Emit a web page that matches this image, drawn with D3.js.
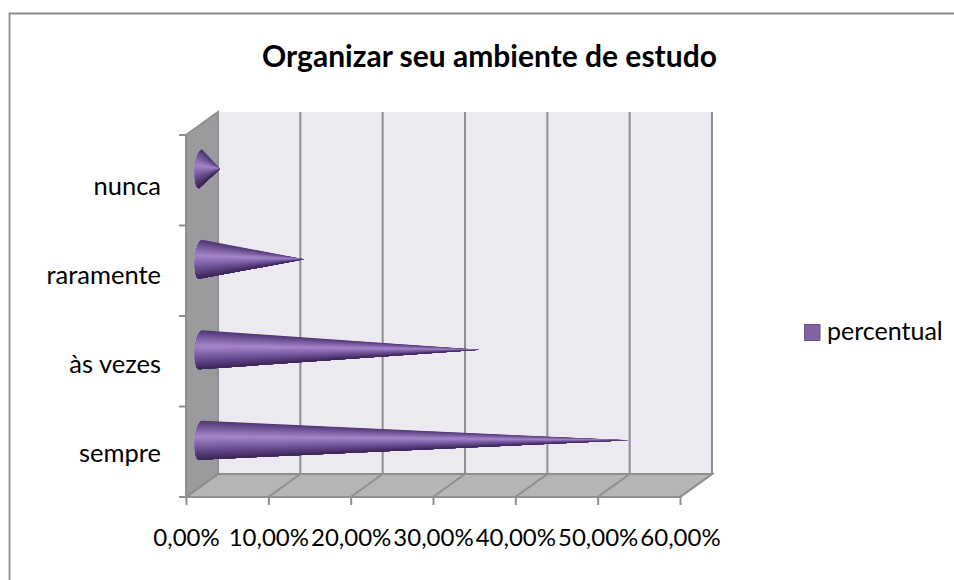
<!DOCTYPE html>
<html>
<head>
<meta charset="utf-8">
<script src="https://cdn.jsdelivr.net/npm/d3@7"></script>
<style>
  html, body { margin: 0; padding: 0; background: #fff; }
  svg { display: block; }
  text { font-family: Lato, "Open Sans", sans-serif; fill: #000; }
</style>
</head>
<body>
<div id="chart"></div>
<script>
const categories = ['sempre', 'às vezes', 'raramente', 'nunca'];
const percentual = [51.8, 33.7, 12.4, 2.2];
const ticks = [0, 10, 20, 30, 40, 50, 60];
const chartTitle = 'Organizar seu ambiente de estudo';
const seriesName = 'percentual';

const W = 954, H = 580;
const plotLeft = 186, plotRight = 680, plotTop = 135, plotBottom = 497;
const dx = 32, dy = -23; // profundidade do 3d
const gridColor = '#8f8f8f';

const svg = d3.select('#chart').append('svg').attr('width', W).attr('height', H);

const soft = svg.append('defs').append('filter').attr('id', 'soft');
soft.append('feGaussianBlur').attr('stdDeviation', 0.45);

const x = d3.scaleLinear().domain([0, 60]).range([plotLeft, plotRight]);
const y = d3.scaleBand().domain(categories).range([plotBottom, plotTop]);
// os rotulos ficam um pouco abaixo das marcas
const yLabel = d3.scaleBand().domain(categories).range([plotBottom + 1.5, plotTop + 7.5]);
const fmt = (v) => v.toFixed(2).replace('.', ',') + '%';
const line = (pts) => 'M' + pts.map((p) => p.join(',')).join('L') + 'Z';

// moldura: so o lado de cima e o esquerdo aparecem no recorte
svg.append('path')
  .attr('d', `M9.5,${H}V13.5H${W}`)
  .attr('fill', 'none').attr('stroke', '#8c8c8c').attr('stroke-width', 1.8);

svg.append('text')
  .attr('x', 489.5).attr('y', 67)
  .attr('text-anchor', 'middle')
  .attr('font-size', 30).attr('font-weight', 700)
  .text(chartTitle);

// paredes
const walls = svg.append('g');
walls.append('path')
  .attr('d', line([[plotLeft + dx, plotTop + dy], [plotRight + dx, plotTop + dy], [plotRight + dx, plotBottom + dy], [plotLeft + dx, plotBottom + dy]]))
  .attr('fill', '#ece9f1');
walls.append('path')
  .attr('d', line([[plotLeft, plotTop], [plotLeft + dx, plotTop + dy], [plotLeft + dx, plotBottom + dy], [plotLeft, plotBottom]]))
  .attr('fill', '#9b9a9d').attr('stroke', gridColor).attr('stroke-width', 2);
walls.append('path')
  .attr('d', line([[plotLeft, plotBottom], [plotLeft + dx, plotBottom + dy], [plotRight + dx, plotBottom + dy], [plotRight, plotBottom]]))
  .attr('fill', '#b5b4b7').attr('stroke', gridColor).attr('stroke-width', 2);

// grade
const grid = svg.append('g').attr('fill', 'none').attr('stroke', gridColor).attr('stroke-width', 2);
grid.selectAll('path')
  .data(ticks)
  .enter()
  .append('path')
  .attr('d', (d) => `M${x(d)},${plotBottom}L${x(d) + dx},${plotBottom + dy}V${plotTop + dy}`);

// eixos
const axisX = d3.axisBottom(x).tickValues(ticks).tickFormat(fmt).tickSize(8).tickPadding(24);
const gx = svg.append('g').attr('transform', `translate(0,${plotBottom})`).call(axisX);
gx.select('.domain').remove();
gx.selectAll('line').attr('stroke', gridColor).attr('stroke-width', 2);
gx.selectAll('text').attr('font-size', 24);

const axisY = d3.axisLeft(yLabel).tickSize(0).tickPadding(25);
const gy = svg.append('g').attr('transform', `translate(${plotLeft},0)`).call(axisY);
gy.select('.domain').remove();
gy.selectAll('text').attr('font-size', 25.5);

svg.append('line')
  .attr('x1', plotLeft).attr('x2', plotLeft)
  .attr('y1', plotTop).attr('y2', plotBottom)
  .attr('stroke', gridColor).attr('stroke-width', 2);

svg.append('g')
  .selectAll('line')
  .data(d3.range(categories.length + 1))
  .enter()
  .append('line')
  .attr('x1', plotLeft - 7).attr('x2', plotLeft)
  .attr('y1', (i) => plotBottom - i * y.step())
  .attr('y2', (i) => plotBottom - i * y.step())
  .attr('stroke', gridColor).attr('stroke-width', 2);

// cones: poligonos sobrepostos de cima para baixo, assim o sombreado nao deixa emendas
const shade = d3.scaleLinear()
  .domain([0, 0.12, 0.4, 0.62, 0.85, 1])
  .range(['#4f3672', '#6b4f92', '#a686c9', '#7f61a8', '#563c7b', '#3a2655'])
  .interpolate(d3.interpolateRgb);

const coneRy = 19.5, coneRx = 5.5, tilt = -1.5, steps = 48;
const cones = svg.append('g').attr('filter', 'url(#soft)');

percentual.forEach((v, idx) => {
  const cy = y(categories[idx]) + y.bandwidth() / 2 + dy / 2;
  const cx = plotLeft + 14.5;
  const tipX = x(v) + dx / 2;
  const edge = (t) => {
    const u = t * 2 - 1;
    return [cx - coneRx * Math.sqrt(1 - u * u) + tilt * u, cy + coneRy * u];
  };
  const g = cones.append('g');
  d3.range(steps).forEach((s) => {
    const pts = d3.range(s, steps + 1).map((k) => edge(k / steps));
    pts.push([tipX, cy]);
    g.append('path')
      .attr('d', line(pts))
      .attr('fill', shade((s + 0.5) / steps));
  });
});

// legenda
svg.append('rect')
  .attr('x', 804.5).attr('y', 324.5).attr('width', 15.5).attr('height', 16)
  .attr('fill', '#8064a2').attr('stroke', '#6a5288').attr('stroke-width', 1);
svg.append('text')
  .attr('x', 827).attr('y', 340)
  .attr('font-size', 25)
  .text(seriesName);
</script>
</body>
</html>
